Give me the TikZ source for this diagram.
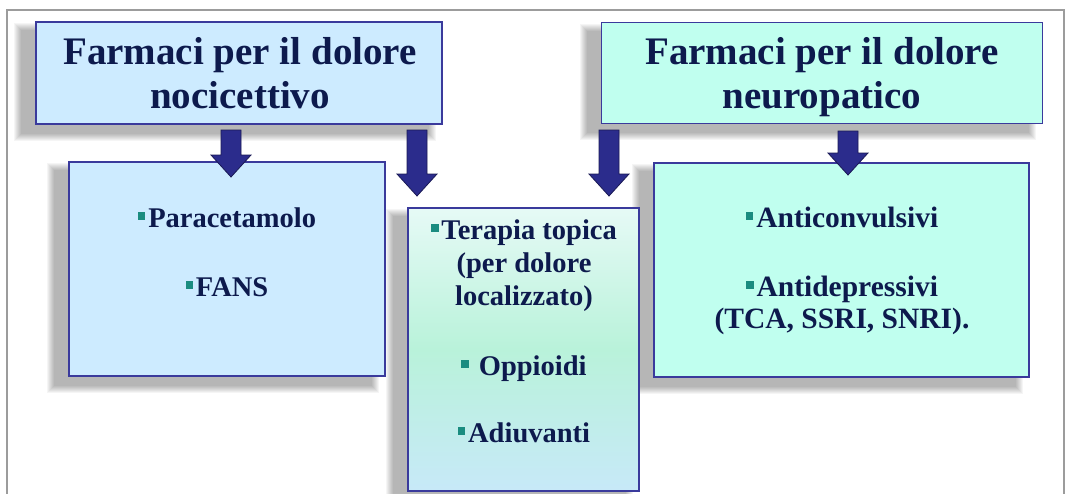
\documentclass[tikz,border=0pt]{standalone}
\usepackage{fontspec}
\setmainfont{Liberation Serif}
\usetikzlibrary{calc}
\pgfdeclarelayer{bg}
\pgfsetlayers{bg,main}
\definecolor{navy}{HTML}{0D1A4D}
\definecolor{boxborder}{HTML}{3A3A9C}
\definecolor{blueA}{HTML}{CDEBFF}
\definecolor{mintD}{HTML}{C0FFEF}
\definecolor{gradtop}{HTML}{E6FAF6}
\definecolor{gradmid}{HTML}{B9F2DA}
\definecolor{gradbot}{HTML}{C7E9F8}
\definecolor{arrowblue}{HTML}{2B2C8C}
\definecolor{arrowdark}{HTML}{1A1A55}
\definecolor{bulletc}{HTML}{1A8C80}
\definecolor{framec}{HTML}{9C9C9C}
\newcommand\bul{{\color{bulletc}\rule[0.25em]{0.26em}{0.26em}}\hspace{0.1em}}
\newcommand\softshadow[1]{%
  \foreach \k in {1,...,8}{%
    \fill[black,opacity=0.04] ($(#1.north west)+(-14-8+\k,9-8+\k)$) rectangle ($(#1.south east)+(-14+8-\k,9+8-\k)$);}}
\newcommand\blockarrow[2]{%
  \draw[barrow] ($(#1)+(-10,0)$) -- ($(#1)+(10,0)$) -- ($(#1)+(10,#2-22)$) -- ($(#1)+(20,#2-22)$)
    -- ($(#1)+(0,#2)$) -- ($(#1)+(-20,#2-22)$) -- ($(#1)+(-10,#2-22)$) -- cycle;}
\tikzset{
  box/.style={draw=boxborder, line width=1.8pt, rectangle, inner sep=0pt},
  titletext/.style={font=\fontsize{39}{45}\selectfont\bfseries, text=navy, anchor=base, inner sep=0pt},
  itemtext/.style={font=\fontsize{28.5}{33}\selectfont\bfseries, text=navy, anchor=base, inner sep=0pt},
  itemtextE/.style={font=\fontsize{29.5}{33}\selectfont\bfseries, text=navy, anchor=base, inner sep=0pt},
  barrow/.style={fill=arrowblue, draw=arrowdark, line width=0.8pt, line join=miter},
}
\begin{document}
\begin{tikzpicture}[x=1pt,y=-1pt]
\useasboundingbox (0,0) rectangle (1066,493);
% boxes
\node[box, fill=blueA, minimum width=406pt, minimum height=102pt] (A) at (239,73) {};
\node[box, fill=mintD, minimum width=441pt, minimum height=101pt] (D) at (822,73) {};
\node[box, fill=blueA, minimum width=316pt, minimum height=214pt] (B) at (227,269) {};
\node[box, top color=gradtop, bottom color=gradbot, middle color=gradmid, minimum width=231pt, minimum height=283pt] (C) at (523.5,349.5) {};
\node[box, fill=mintD, minimum width=375pt, minimum height=214pt] (E) at (841.5,270) {};
\begin{pgfonlayer}{bg}
  \fill[white] (0,0) rectangle (1066,493);
  \softshadow{A}
  \softshadow{D}
  \softshadow{B}
  \softshadow{C}
  \softshadow{E}
\end{pgfonlayer}
% frame
\coordinate (f1) at (7,494);
\coordinate (f2) at (7,10);
\coordinate (f3) at (1064,10);
\coordinate (f4) at (1064,494);
\draw[framec, line width=1.2pt] (f1) -- (f2) -- (f3) -- (f4);
% titles
\node[titletext] (A1) at (240,64) {Farmaci per il dolore};
\node[titletext] (A2) at (240,108) {nocicettivo};
\node[titletext] (D1) at (822,64) {Farmaci per il dolore};
\node[titletext] (D2) at (822,108) {neuropatico};
% items
\node[itemtext] (B1) at (227,227) {\bul Paracetamolo};
\node[itemtext] (B2) at (227,296) {\bul FANS};
\node[itemtext] (C1) at (524,239) {\bul Terapia topica};
\node[itemtext] (C2) at (524,272) {(per dolore};
\node[itemtext] (C3) at (524,305) {localizzato)};
\node[itemtext] (C4) at (524,375) {\bul\ Oppioidi};
\node[itemtext] (C5) at (524,442) {\bul Adiuvanti};
\node[itemtextE] (E1) at (842,227) {\bul Anticonvulsivi};
\node[itemtextE] (E2) at (842,296) {\bul Antidepressivi};
\node[itemtextE] (E3) at (842,328) {(TCA, SSRI, SNRI).};
% arrows
\coordinate (a1) at (231,130);
\coordinate (a2) at (417,130);
\coordinate (a3) at (609,130);
\coordinate (a4) at (848,131);
\blockarrow{a1}{47}
\blockarrow{a2}{66}
\blockarrow{a3}{66}
\blockarrow{a4}{44}
\end{tikzpicture}
\end{document}
